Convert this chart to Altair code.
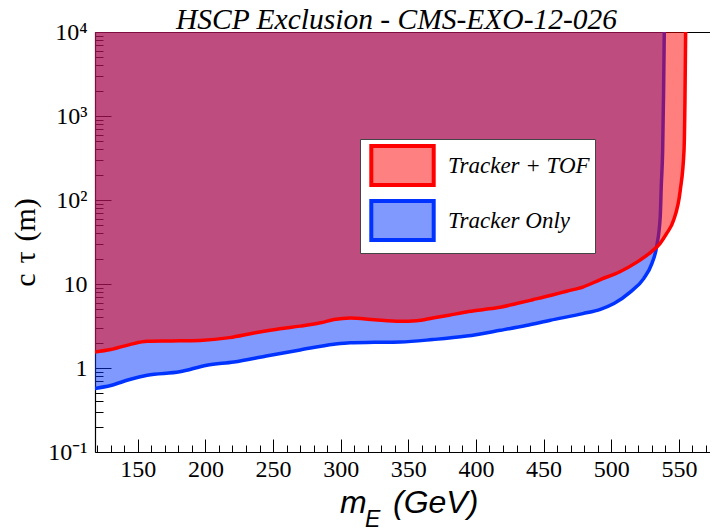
import altair as alt
import pandas as pd

# ---------------- data ----------------
series_names = ["Tracker + TOF", "Tracker Only"]

tof_mass = [118, 130, 144, 157, 175, 196, 218, 235, 255, 270, 285, 295, 307, 325,
            344, 356, 368, 380, 393, 405, 418, 430, 442, 455, 467, 479, 492, 506,
            519, 530, 536, 541, 546, 551, 553.8, 554.5, 555]
tof_ctau = [1.55, 1.66, 1.9, 2.08, 2.1, 2.13, 2.3, 2.59, 2.94, 3.15, 3.45, 3.77, 3.94, 3.75,
            3.6, 3.66, 3.94, 4.25, 4.64, 4.95, 5.3, 5.85, 6.5, 7.3, 8.2, 9.2, 11.3, 13.9,
            18.2, 24.5, 30.3, 40, 57, 130, 390, 1550, 10000]

trk_mass = [118, 130, 144, 157, 181, 201, 221, 245, 270, 295, 307, 325, 344, 368,
            393, 418, 437, 455, 479, 492, 502, 514, 524, 530, 533.5, 536.2, 537,
            538, 538.7, 539.2]
trk_ctau = [0.57, 0.62, 0.73, 0.82, 0.9, 1.08, 1.18, 1.39, 1.64, 1.92, 2.0, 2.02, 2.04, 2.18,
            2.4, 2.81, 3.2, 3.7, 4.44, 5.0, 5.85, 8.0, 11.6, 17.5, 27.6, 63, 150,
            390, 2000, 10000]

line_colors = ["#FF0000", "#0033FF"]
swatch_fills = ["#FF8080", "#8099FF"]

x_major = [150, 200, 250, 300, 350, 400, 450, 500, 550]
x_minor = list(range(120, 580, 10))
y_major = [0.1, 1, 10, 100, 1000, 10000]
y_minor = [m * 10 ** e for e in range(-1, 4) for m in range(2, 10)]

chart_title = "HSCP Exclusion - CMS-EXO-12-026"
y_title = "c\u2004τ\u2004(m)"

df = pd.DataFrame({
    "mass": tof_mass + trk_mass,
    "ctau": tof_ctau + trk_ctau,
    "series": [series_names[0]] * len(tof_mass) + [series_names[1]] * len(trk_mass),
})
# legend carrier rows (placed outside the x domain, clipped away)
legend_df = pd.DataFrame({"series": series_names, "mass": [0, 0], "ctau": [1, 1]})

# ---------------- layout ----------------
W, H = 615, 420
x_scale = alt.Scale(domain=[118.4, 573], nice=False, zero=False)
y_scale = alt.Scale(type="log", domain=[0.1, 10000], nice=False)

SERIF = "Liberation Serif"
SANS = "Liberation Sans"

legend = alt.Legend(
    title=None, orient="none", legendX=265, legendY=107, direction="vertical",
    fillColor="white", strokeColor="#444444", padding=5, rowPadding=0,
    symbolType="M-1.6,-1H1.6V1H-1.6Z", symbolSize=1521, symbolStrokeWidth=4,
    symbolOffset=16, labelFont=SERIF, labelFontStyle="italic", labelFontSize=23,
    labelColor="black", labelOffset=24, labelLimit=400,
    labelExpr="datum.label + '\u2002'",
)

common_axis = dict(grid=False, domainColor="black", tickColor="black", labelColor="black")

ax_bottom = alt.Axis(orient="bottom", title=None, values=x_major, ticks=False, tickSize=0,
                     domain=True, domainWidth=1.2, labelFont=SERIF, labelFontSize=24,
                     labelPadding=5, labelFlush=False, labelOverlap=False, **common_axis)
ax_left = alt.Axis(
    orient="left", values=y_major, ticks=False, tickSize=0, domain=True, domainWidth=1.2,
    labelExpr="datum.value == 0.1 ? '10⁻¹' : datum.value == 1 ? '1' : datum.value == 10 ? '10' : "
              "datum.value == 100 ? '10²' : datum.value == 1000 ? '10³' : '10⁴'",
    labelFont=SERIF, labelFontSize=24, labelPadding=8, labelBaseline="middle",
    labelFlush=False, labelOverlap=False,
    title=y_title, titleFont=SERIF, titleFontSize=30, titleFontWeight="normal",
    titleColor="black", titleX=-61, titleY=210, titleAngle=270, titleAlign="center",
    titleBaseline="alphabetic", **common_axis)
ax_top_frame = alt.Axis(orient="top", title=None, labels=False, ticks=False, domain=True,
                        domainWidth=1.2, **common_axis)
ax_x_minor = alt.Axis(orient="top", offset=-H, values=x_minor, labels=False, domain=False,
                      tickSize=7, tickWidth=1, title=None, **common_axis)
ax_x_major = alt.Axis(orient="top", offset=-H, values=x_major, labels=False, domain=False,
                      tickSize=13, tickWidth=1, title=None, **common_axis)
ax_y_minor = alt.Axis(orient="right", offset=-W, values=y_minor, labels=False, domain=False,
                      tickSize=8, tickWidth=1, title=None, **common_axis)
ax_y_major = alt.Axis(orient="right", offset=-W, values=y_major, labels=False, domain=False,
                      tickSize=16, tickWidth=1, title=None, **common_axis)

base = alt.Chart(df)
trk = base.transform_filter(alt.datum.series == series_names[1])
tof = base.transform_filter(alt.datum.series == series_names[0])

trk_area = trk.mark_area(color=line_colors[1], fillOpacity=0.5, interpolate="monotone",
                         clip=True).encode(
    x=alt.X("mass:Q", scale=x_scale, axis=ax_bottom),
    y=alt.Y("ctau:Q", scale=y_scale, axis=ax_left),
    y2=alt.datum(10000),
)
trk_line = trk.mark_line(color=line_colors[1], strokeWidth=3.5, interpolate="monotone",
                         clip=True).encode(
    x=alt.X("mass:Q", scale=x_scale, axis=ax_top_frame),
    y=alt.Y("ctau:Q", scale=y_scale, axis=None),
)
tof_area = tof.mark_area(color=line_colors[0], fillOpacity=0.5, interpolate="monotone",
                         clip=True).encode(
    x=alt.X("mass:Q", scale=x_scale, axis=ax_x_minor),
    y=alt.Y("ctau:Q", scale=y_scale, axis=ax_y_minor),
    y2=alt.datum(10000),
)
tof_line = tof.mark_line(color=line_colors[0], strokeWidth=3.5, interpolate="monotone",
                         clip=True).encode(
    x=alt.X("mass:Q", scale=x_scale, axis=ax_x_major),
    y=alt.Y("ctau:Q", scale=y_scale, axis=ax_y_major),
)
legend_layer = alt.Chart(legend_df).mark_point(
    filled=True, opacity=1, strokeWidth=4, size=10, clip=True
).encode(
    x=alt.X("mass:Q", scale=x_scale, axis=None),
    y=alt.Y("ctau:Q", scale=y_scale, axis=None),
    fill=alt.Fill("series:N", scale=alt.Scale(domain=series_names, range=swatch_fills),
                  legend=legend),
    stroke=alt.Stroke("series:N", scale=alt.Scale(domain=series_names, range=line_colors),
                      legend=legend),
)


def text_piece(txt, px, py, size, font, align="left"):
    return alt.Chart(pd.DataFrame({"t": [txt]})).mark_text(
        font=font, fontStyle="italic", fontSize=size, align=align,
        baseline="alphabetic", color="black",
    ).encode(x=alt.value(px), y=alt.value(py), text="t:N")


texts = [
    text_piece(chart_title, W / 2 - 6, -3.5, 29.5, SERIF, "center"),
    text_piece("m", 245, 481, 32, SANS),
    text_piece("E", 270, 495, 23, SANS),
    text_piece("(GeV)", 298, 481, 32, SANS),
]

chart = alt.layer(trk_area, trk_line, tof_area, tof_line, legend_layer, *texts).resolve_axis(
    x="independent", y="independent"
).properties(
    width=W, height=H,
    padding={"left": 87, "top": 24, "right": 0, "bottom": 80},
    autosize=alt.AutoSizeParams(type="none"),
).configure_view(strokeWidth=0).configure(background="white")

chart.save("out.html", embed_options={"renderer": "svg", "actions": False})
